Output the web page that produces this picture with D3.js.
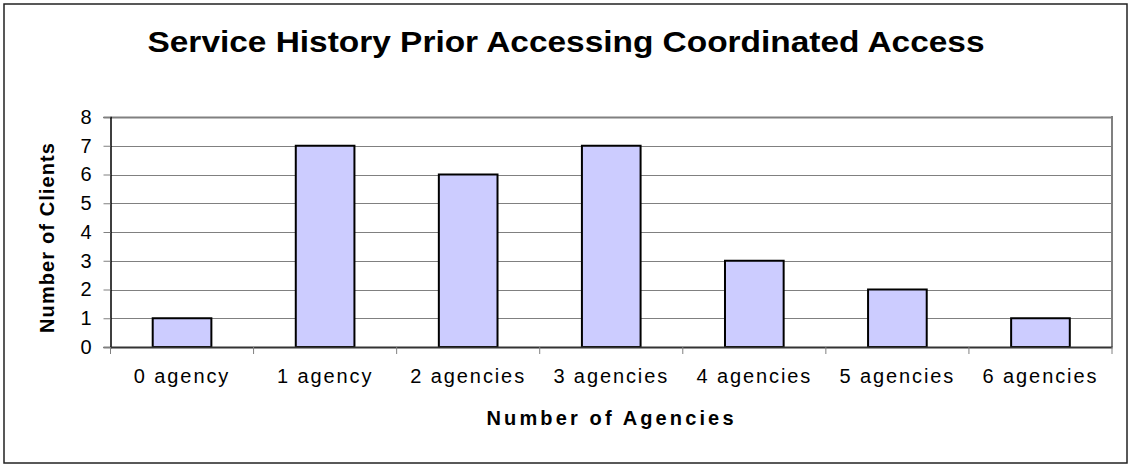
<!DOCTYPE html>
<html><head><meta charset="utf-8">
<script src="https://cdn.jsdelivr.net/npm/d3@7"></script>
<style>body{margin:0;background:#fff}svg{display:block}</style>
</head><body>
<script>
const categories = ["0 agency","1 agency","2 agencies","3 agencies","4 agencies","5 agencies","6 agencies"];
const clients = [1,7,6,7,3,2,1];
const yTicks = [0,1,2,3,4,5,6,7,8];
const title = "Service History Prior Accessing Coordinated Access";
const xTitle = "Number of Agencies";
const yTitle = "Number of Clients";

const W = 1130, H = 466;
const m = {left:110.5, right:1112, top:117, bottom:347};
const svg = d3.select("body").append("svg").attr("width",W).attr("height",H);
svg.append("rect").attr("x",4).attr("y",4).attr("width",1123).attr("height",459)
  .attr("fill","#fff").attr("stroke","#222").attr("stroke-width",1.5);

const x = d3.scaleBand().domain(categories).range([m.left,m.right]).paddingInner(0.59).paddingOuter(0.295);
const xb = d3.scaleBand().domain(categories).range([m.left,m.right]);
const y = d3.scaleLinear().domain([0,8]).range([m.bottom,m.top]);

// gridlines
svg.append("g").selectAll("line").data(yTicks.filter(d=>d>0)).join("line")
  .attr("x1",m.left).attr("x2",m.right).attr("y1",d=>Math.round(y(d))+0.5).attr("y2",d=>Math.round(y(d))+0.5)
  .attr("stroke","#808080").attr("stroke-width",d=>d===8?2:1);
// right border
svg.append("line").attr("x1",m.right).attr("x2",m.right).attr("y1",m.top-1).attr("y2",m.bottom)
  .attr("stroke","#808080").attr("stroke-width",2);

// bars
svg.append("g").selectAll("rect").data(clients).join("rect")
  .attr("x",(d,i)=>x(categories[i])).attr("width",x.bandwidth())
  .attr("y",d=>y(d)).attr("height",d=>y(0)-y(d))
  .attr("fill","#CCCCFF").attr("stroke","#000").attr("stroke-width",2);

// y axis
const ya = svg.append("g").attr("transform",`translate(${m.left},0)`)
  .call(d3.axisLeft(y).tickValues(yTicks).tickSize(7).tickPadding(12).tickFormat(d3.format("d")));
ya.select(".domain").attr("stroke","#000").attr("stroke-width",1.5);
ya.selectAll(".tick line").attr("stroke","#808080");
ya.selectAll("text").attr("font-family","Arial, 'Liberation Sans', sans-serif").attr("font-size",20).attr("fill","#000");

// x axis
const xa = svg.append("g").attr("transform",`translate(0,${m.bottom})`)
  .call(d3.axisBottom(xb).tickSize(0).tickPadding(22));
xa.select(".domain").attr("stroke","#333").attr("stroke-width",2);
xa.selectAll("text").attr("font-family","Arial, 'Liberation Sans', sans-serif").attr("font-size",20).attr("fill","#000")
  .attr("letter-spacing","1.9px");
// category boundary ticks
svg.append("g").selectAll("line").data(categories.map(c=>xb(c)).concat([m.right])).join("line")
  .attr("x1",d=>d).attr("x2",d=>d).attr("y1",m.bottom).attr("y2",m.bottom+7)
  .attr("stroke","#808080").attr("stroke-width",1);

// titles
svg.append("text").attr("x",566).attr("y",52).attr("text-anchor","middle")
  .attr("font-family","Arial, 'Liberation Sans', sans-serif").attr("font-weight","bold").attr("font-size",30)
  .attr("textLength",837).attr("lengthAdjust","spacingAndGlyphs").text(title);
svg.append("text").attr("x",610).attr("y",425).attr("text-anchor","middle")
  .attr("font-family","Arial, 'Liberation Sans', sans-serif").attr("font-weight","bold").attr("font-size",20)
  .attr("textLength",247).attr("lengthAdjust","spacing").text(xTitle);
svg.append("text").attr("transform","translate(54,238) rotate(-90)").attr("text-anchor","middle")
  .attr("font-family","Arial, 'Liberation Sans', sans-serif").attr("font-weight","bold").attr("font-size",20)
  .attr("textLength",190).attr("lengthAdjust","spacing").text(yTitle);
</script>
</body></html>
